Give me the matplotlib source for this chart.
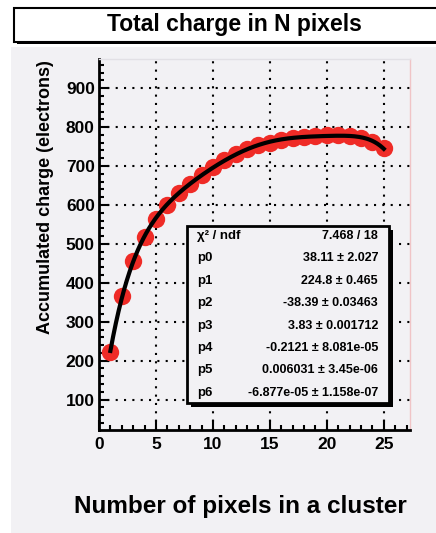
import matplotlib
matplotlib.use("Agg")
import matplotlib.pyplot as plt
from matplotlib.patches import Rectangle
from matplotlib.ticker import MultipleLocator
import numpy as np

# data
n_pixels = np.arange(1, 26)
charge = [222, 366, 455, 519, 564, 601, 630, 654, 678, 697, 715, 731, 744,
          753, 760, 766, 771, 775, 778, 780, 780, 777, 771, 763, 746]

stat_names = ["χ² / ndf", "p0", "p1", "p2", "p3", "p4", "p5", "p6"]
stat_values = ["7.468 / 18", "38.11 ± 2.027", "224.8 ± 0.465",
               "-38.39 ± 0.03463", "3.83 ± 0.001712", "-0.2121 ± 8.081e-05",
               "0.006031 ± 3.45e-06", "-6.877e-05 ± 1.158e-07"]

W, H = 436, 533
BG = "#f2f1f4"
plt.rcParams['font.family'] = ['Liberation Sans', 'DejaVu Sans']
plt.rcParams['font.weight'] = 'bold'

fig = plt.figure(figsize=(W / 100, H / 100), dpi=100, facecolor="white")


def px(x, y):
    # pixel coords (top-left origin) -> figure fraction
    return x / W, 1 - y / H


# grey pad
fig.patches.append(Rectangle(px(11, H), (W - 11) / W, (H - 47) / H,
                             transform=fig.transFigure, facecolor=BG,
                             edgecolor="none", zorder=-5))

# title box with shadow
fig.patches.append(Rectangle(px(17, 44), 1, 35 / H, transform=fig.transFigure,
                             facecolor="black", edgecolor="none", zorder=1))
fig.patches.append(Rectangle(px(14, 42), 1, 34 / H, transform=fig.transFigure,
                             facecolor="white", edgecolor="black", lw=1.5, zorder=2))
fig.text(*px(234, 25), "Total charge in N pixels", ha="center", va="center",
         fontsize=16.5, fontweight="bold", zorder=3)

ax = fig.add_axes([99 / W, 1 - 430 / H, (410 - 99) / W, (430 - 59) / H])
ax.set_zorder(0)
ax.set_facecolor(BG)
ax.set_xlim(0, 27.3)
ax.set_ylim(22, 975)

# fit curve (6th order polynomial, like the stats box)
coef = np.polyfit(n_pixels, charge, 6)
xs = np.linspace(1, 25, 300)
ax.plot(n_pixels, charge, "o", color="#ef2b26", markersize=12.5,
        markeredgewidth=0, zorder=3)
ax.plot(xs, np.polyval(coef, xs), color="black", lw=3, zorder=4)

ax.xaxis.set_major_locator(MultipleLocator(5))
ax.xaxis.set_minor_locator(MultipleLocator(1))
ax.yaxis.set_major_locator(MultipleLocator(100))
ax.yaxis.set_minor_locator(MultipleLocator(20))
ax.tick_params(which="both", direction="in", top=False, right=False,
               width=1.5, labelsize=12.5)
ax.tick_params(which="major", length=7)
ax.tick_params(which="minor", length=3.5)
ax.tick_params(axis="y", pad=3)
ax.tick_params(axis="x", pad=5)
for lab in ax.get_xticklabels() + ax.get_yticklabels():
    lab.set_fontweight("bold")
ax.grid(True, which="major", color="black", lw=1.5, linestyle=(0, (1, 3)))
ax.set_axisbelow(True)

for side in ("left", "bottom"):
    ax.spines[side].set_linewidth(2)
ax.spines["top"].set_color("#e2e0e5")
ax.spines["right"].set_color("#f0c4c6")
ax.spines["top"].set_linewidth(1)
ax.spines["right"].set_linewidth(1)

# stats box
bx0, by0, bx1, by1 = 187, 226, 389, 403
fig.patches.append(Rectangle(px(bx0 + 4, by1 + 4), (bx1 - bx0) / W,
                             (by1 - by0) / H, transform=fig.transFigure,
                             facecolor="black", edgecolor="none", zorder=5))
fig.patches.append(Rectangle(px(bx0, by1), (bx1 - bx0) / W, (by1 - by0) / H,
                             transform=fig.transFigure, facecolor=BG,
                             edgecolor="black", lw=2, zorder=6))
row_y = 236
for name, val in zip(stat_names, stat_values):
    fig.text(*px(197, row_y), name, ha="left", va="center", fontsize=9.5,
             fontweight="bold", zorder=7)
    fig.text(*px(378, row_y), val, ha="right", va="center", fontsize=9,
             fontweight="bold", zorder=7)
    row_y += 22.4

fig.text(*px(45, 60), "Accumulated charge (electrons)", rotation=90,
         ha="center", va="top", fontsize=13, fontweight="bold")
fig.text(*px(240, 507), "Number of pixels in a cluster", ha="center",
         va="center", fontsize=17.5, fontweight="bold")

fig.savefig("out.png", dpi=100, facecolor="white")
